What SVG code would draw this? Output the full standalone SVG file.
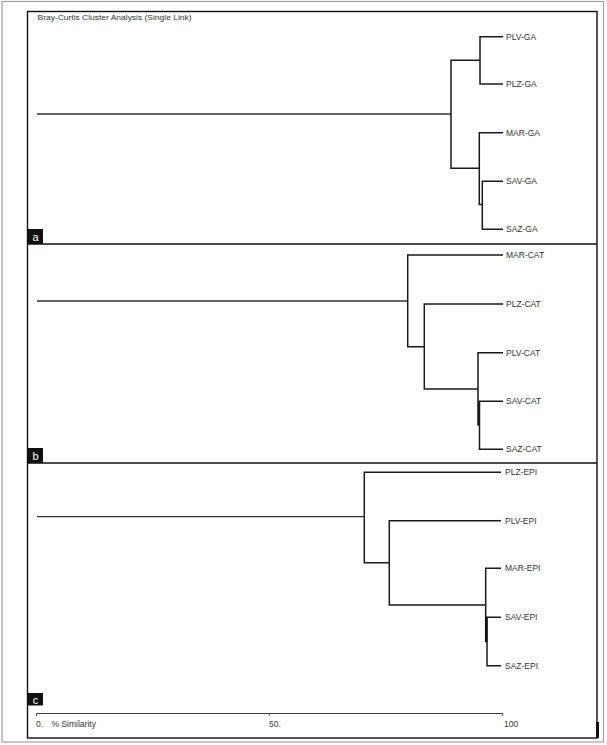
<svg xmlns="http://www.w3.org/2000/svg" width="607" height="745" viewBox="0 0 607 745">
<style>
.lbl{font-family:"Liberation Sans",Arial,sans-serif;font-size:8.5px;fill:#333}
.ax{font-family:"Liberation Sans",Arial,sans-serif;font-size:8.5px;fill:#333}
.tag{font-family:"Liberation Sans",Arial,sans-serif;font-size:11px;fill:#fff}
.den{fill:none;stroke:#1a1a1a;stroke-width:1.5}
.root{fill:none;stroke:#333;stroke-width:1.3}
.frame{fill:none;stroke:#111;stroke-width:1.4}
</style>
<rect x="0" y="0" width="607" height="745" fill="#fff"/>
<rect x="2" y="1.5" width="601.5" height="740.5" fill="none" stroke="#a0a0a0" stroke-width="1.2"/>
<g id="frame">
<rect class="frame" x="27.5" y="11.5" width="569.5" height="726.5"/>
<line x1="27.5" y1="244" x2="597" y2="244" stroke="#111" stroke-width="1.6"/>
<line x1="27.5" y1="463" x2="597" y2="463" stroke="#111" stroke-width="1.6"/>
<rect x="596" y="722" width="3" height="16" fill="#111"/>
</g>
<text x="37.5" y="19.5" font-family="Liberation Sans, Arial, sans-serif" font-size="7.6" fill="#333" textLength="154" lengthAdjust="spacingAndGlyphs">Bray-Curtis Cluster Analysis (Single Link)</text>
<g id="tag-a"><rect x="28" y="229" width="15" height="15" fill="#111"/><text class="tag" x="35.5" y="240.5" text-anchor="middle">a</text></g>
<g id="tag-b"><rect x="28" y="448" width="15" height="15" fill="#111"/><text class="tag" x="35.5" y="459.5" text-anchor="middle">b</text></g>
<g id="tag-c"><rect x="28" y="693" width="15" height="12.5" fill="#111"/><text class="tag" x="35.5" y="703.5" text-anchor="middle">c</text></g>
<g id="connectors">
<!-- panel a -->
<path class="root" d="M37 114H451"/>
<path class="den" d="M503 36.7H480V84H503M480 60.3H451V168.3H479.3M503 132.7H479.3V204.5H482.3M503 181.3H482.3V229.3H503"/>
<!-- panel b -->
<path class="root" d="M37 301H407.7"/>
<path class="den" d="M503 255H407.7V346.7H424.3M503 304H424.3V389H478M503 352.7H478V425H479.5M503 401.3H479.5V449.3H503"/>
<!-- panel c -->
<path class="root" d="M37 516.7H364.3"/>
<path class="den" d="M501 472.3H364.3V562.7H389.3M501 520.7H389.3V605H485.7M501 568.3H485.7V641.5H487M501 617.3H487V665.7H501"/>
<path d="M486.3 617.3V641.5" stroke="#111" stroke-width="2.2"/>
<!-- axis -->
<path d="M36.5 716V713.5H502.7V716M269.3 713.5V715.5" fill="none" stroke="#444" stroke-width="1"/>
</g>
<g id="leaves-a">
<text class="lbl" x="506" y="39.8">PLV-GA</text>
<text class="lbl" x="506" y="87.1">PLZ-GA</text>
<text class="lbl" x="506" y="135.8">MAR-GA</text>
<text class="lbl" x="506" y="184.4">SAV-GA</text>
<text class="lbl" x="506" y="232.4">SAZ-GA</text>
</g>
<g id="leaves-b">
<text class="lbl" x="506" y="258.1">MAR-CAT</text>
<text class="lbl" x="506" y="307.1">PLZ-CAT</text>
<text class="lbl" x="506" y="355.8">PLV-CAT</text>
<text class="lbl" x="506" y="404.4">SAV-CAT</text>
<text class="lbl" x="506" y="452.4">SAZ-CAT</text>
</g>
<g id="leaves-c">
<text class="lbl" x="505" y="475.4">PLZ-EPI</text>
<text class="lbl" x="505" y="523.8">PLV-EPI</text>
<text class="lbl" x="505" y="571.4">MAR-EPI</text>
<text class="lbl" x="505" y="620.4">SAV-EPI</text>
<text class="lbl" x="505" y="668.8">SAZ-EPI</text>
</g>
<g id="axis-labels">
<text class="ax" x="36" y="726.5">0.</text>
<text class="ax" x="51.5" y="726.5">% Similarity</text>
<text class="ax" x="269" y="726.5">50.</text>
<text class="ax" x="504" y="726.5">100</text>
</g>
</svg>
